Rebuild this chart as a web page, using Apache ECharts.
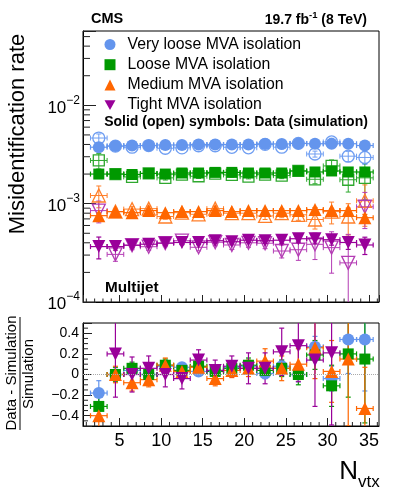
<!DOCTYPE html>
<html>
<head>
<meta charset="utf-8" />
<title>Misidentification rate vs Nvtx</title>
<script src="https://cdn.jsdelivr.net/npm/echarts@6/dist/echarts.min.js"></script>
<style>
    html, body { margin: 0; padding: 0; background: #fff; }
    #chart { width: 399px; height: 499px; }
</style>
</head>
<body>
<div id="chart"></div>
<script>
// bin centres (N_vtx), bins are 2 wide
const nvtx = [2.5, 4.5, 6.5, 8.5, 10.5, 12.5, 14.5, 16.5, 18.5, 20.5, 22.5, 24.5, 26.5, 28.5, 30.5, 32.5, 34.5];

// very loose
const vlooseData = [3.75e-3, 3.85e-3, 3.9e-3, 3.9e-3, 3.95e-3, 3.95e-3, 4.0e-3, 4.0e-3, 4.0e-3, 4.0e-3, 4.05e-3, 4.05e-3, 4.1e-3, 4.07e-3, 4.07e-3, 4.07e-3, 3.9e-3];
const vlooseDataErr = [0.04, 0.02, 0.02, 0.02, 0.02, 0.02, 0.02, 0.02, 0.02, 0.02, 0.02, 0.02, 0.025, 0.03, 0.03, 0.035, 0.04];
const vlooseSim = [4.65e-3, 3.85e-3, 3.75e-3, 3.9e-3, 3.66e-3, 3.69e-3, 3.88e-3, 3.88e-3, 3.74e-3, 3.7e-3, 4.01e-3, 3.75e-3, 4.1e-3, 3.2e-3, 4.24e-3, 3.04e-3, 2.95e-3];
const vlooseSimErr = [0.1, 0.04, 0.03, 0.03, 0.03, 0.03, 0.03, 0.03, 0.03, 0.03, 0.04, 0.04, 0.05, 0.07, 0.09, 0.12, 0.15];
const vlooseRatio = [-0.18, 0.0, 0.04, 0.0, 0.08, 0.07, 0.03, 0.03, 0.07, 0.08, 0.01, 0.08, 0.0, 0.27, -0.04, 0.34, 0.34];
const vlooseRatioErr = [0.12, 0.05, 0.04, 0.04, 0.04, 0.04, 0.04, 0.04, 0.04, 0.05, 0.05, 0.06, 0.07, 0.1, 0.12, 0.33, 0.5];

// loose
const looseData = [2.0e-3, 2.0e-3, 1.98e-3, 2.03e-3, 2.0e-3, 2.05e-3, 2.05e-3, 2.08e-3, 2.08e-3, 2.05e-3, 2.05e-3, 2.05e-3, 2.15e-3, 2.1e-3, 2.15e-3, 2.1e-3, 2.1e-3];
const looseDataErr = [0.05, 0.03, 0.03, 0.03, 0.03, 0.03, 0.03, 0.03, 0.03, 0.03, 0.03, 0.03, 0.04, 0.04, 0.05, 0.06, 0.07];
const looseSim = [2.75e-3, 2.0e-3, 1.87e-3, 2.03e-3, 1.83e-3, 1.97e-3, 1.9e-3, 2.02e-3, 1.96e-3, 1.88e-3, 1.97e-3, 1.93e-3, 2.15e-3, 1.77e-3, 2.42e-3, 1.75e-3, 1.83e-3];
const looseSimErr = [0.18, 0.06, 0.05, 0.05, 0.05, 0.05, 0.05, 0.05, 0.05, 0.05, 0.06, 0.07, 0.08, 0.1, 0.15, 0.25, 0.4];
const looseRatio = [-0.31, 0.0, 0.06, 0.0, 0.09, 0.04, 0.08, 0.03, 0.06, 0.09, 0.04, 0.06, 0.0, 0.19, -0.11, 0.2, 0.15];
const looseRatioErr = [0.12, 0.07, 0.06, 0.06, 0.06, 0.06, 0.06, 0.06, 0.06, 0.07, 0.07, 0.08, 0.1, 0.14, 0.2, 0.42, 0.62];

// medium
const mediumData = [0.755e-3, 0.83e-3, 0.81e-3, 0.85e-3, 0.81e-3, 0.83e-3, 0.83e-3, 0.85e-3, 0.83e-3, 0.85e-3, 0.85e-3, 0.85e-3, 0.85e-3, 0.87e-3, 0.85e-3, 0.85e-3, 0.72e-3];
const mediumDataErr = [0.06, 0.04, 0.03, 0.03, 0.03, 0.03, 0.03, 0.03, 0.03, 0.03, 0.03, 0.04, 0.04, 0.05, 0.05, 0.06, 0.08];
const mediumSim = [1.21e-3, 0.83e-3, 0.88e-3, 0.89e-3, 0.74e-3, 0.81e-3, 0.78e-3, 0.89e-3, 0.8e-3, 0.8e-3, 0.75e-3, 0.8e-3, 0.77e-3, 0.69e-3, 0.83e-3, 0.74e-3, 1.07e-3];
const mediumSimErr = [0.25, 0.08, 0.06, 0.06, 0.06, 0.06, 0.06, 0.06, 0.06, 0.07, 0.08, 0.1, 0.12, 0.2, 0.25, 0.35, 0.45];
const mediumRatio = [-0.4, 0.0, -0.08, -0.05, 0.09, 0.03, 0.07, -0.04, 0.04, 0.06, 0.13, 0.06, 0.1, 0.26, 0.03, 0.15, -0.33];
const mediumRatioErr = [0.12, 0.08, 0.08, 0.07, 0.07, 0.07, 0.07, 0.07, 0.07, 0.08, 0.12, 0.12, 0.15, 0.3, 0.3, 0.65, 0.4];

// tight
const tightData = [0.366e-3, 0.366e-3, 0.378e-3, 0.387e-3, 0.397e-3, 0.403e-3, 0.403e-3, 0.42e-3, 0.41e-3, 0.425e-3, 0.42e-3, 0.425e-3, 0.44e-3, 0.44e-3, 0.43e-3, 0.403e-3, 0.38e-3];
const tightDataErr = [0.25, 0.08, 0.06, 0.06, 0.05, 0.05, 0.05, 0.05, 0.05, 0.05, 0.06, 0.07, 0.08, 0.1, 0.12, 0.15, 0.2];
const tightSim = [0.85e-3, 0.305e-3, 0.378e-3, 0.365e-3, 0.397e-3, 0.42e-3, 0.36e-3, 0.405e-3, 0.38e-3, 0.4e-3, 0.396e-3, 0.33e-3, 0.34e-3, 0.386e-3, 0.357e-3, 0.25e-3, 0.93e-3];
const tightSimErr = [0.25, 0.15, 0.1, 0.08, 0.08, 0.08, 0.08, 0.08, 0.1, 0.1, 0.12, 0.15, 0.22, 0.3, 0.45, 0.95, 0.4];
const tightRatio = [null, 0.2, 0.0, 0.06, 0.0, -0.04, 0.14, 0.04, 0.08, 0.06, 0.06, 0.22, 0.28, 0.14, 0.21, null, null];
const tightRatioErr = [null, 0.42, 0.17, 0.12, 0.12, 0.1, 0.1, 0.1, 0.1, 0.15, 0.15, 0.23, 0.35, 0.45, 0.7, null, null];

// ticks
const xMinorTicks = [1, 2, 3, 4, 6, 7, 8, 9, 11, 12, 13, 14, 16, 17, 18, 19, 21, 22, 23, 24, 26, 27, 28, 29, 31, 32, 33, 34, 36];
const logMinorTicks = [2e-4, 3e-4, 4e-4, 5e-4, 6e-4, 7e-4, 8e-4, 9e-4, 2e-3, 3e-3, 4e-3, 5e-3, 6e-3, 7e-3, 8e-3, 9e-3, 2e-2, 3e-2, 4e-2, 5e-2];
const ratioMinorTicks = [-0.45, -0.35, -0.3, -0.25, -0.15, -0.1, -0.05, 0.05, 0.1, 0.15, 0.25, 0.3, 0.35, 0.45];

const FONT = '"Liberation Sans", Arial, Helvetica, sans-serif';
const INV_TRIANGLE = 'path://M0,0 L10,0 L5,9 Z';

const groups = [
    {name: 'Very loose MVA isolation', color: '#6495ed', open: '#6f9ef2', symbol: 'circle', rotate: 0, size: 12, icon: 'circle',
        data: vlooseData, dataErr: vlooseDataErr, sim: vlooseSim, simErr: vlooseSimErr, ratio: vlooseRatio, ratioErr: vlooseRatioErr},
    {name: 'Loose MVA isolation', color: '#009900', open: '#2ea82e', symbol: 'rect', rotate: 0, size: 11, icon: 'rect',
        data: looseData, dataErr: looseDataErr, sim: looseSim, simErr: looseSimErr, ratio: looseRatio, ratioErr: looseRatioErr},
    {name: 'Medium MVA isolation', color: '#ff6600', open: '#ff7f2a', symbol: 'triangle', rotate: 0, size: 13, icon: 'triangle',
        data: mediumData, dataErr: mediumDataErr, sim: mediumSim, simErr: mediumSimErr, ratio: mediumRatio, ratioErr: mediumRatioErr},
    {name: 'Tight MVA isolation', color: '#990099', open: '#b43cb4', symbol: 'triangle', rotate: 180, size: 13, icon: INV_TRIANGLE,
        data: tightData, dataErr: tightDataErr, sim: tightSim, simErr: tightSimErr, ratio: tightRatio, ratioErr: tightRatioErr}
];

// error bar drawing: [x, y, lo, hi], horizontal +-1 (half bin)
function errorBars(color, width) {
    return function (params, api) {
        const x = api.value(0), y = api.value(1), lo = api.value(2), hi = api.value(3);
        const c = api.coord([x, y]);
        const xl = api.coord([x - 1, y])[0], xr = api.coord([x + 1, y])[0];
        const yt = api.coord([x, hi])[1], yb = api.coord([x, lo])[1];
        const cap = 2.5;
        const style = {stroke: color, lineWidth: width, fill: null};
        const seg = (x1, y1, x2, y2) => ({type: 'line', shape: {x1, y1, x2, y2}, style});
        return {type: 'group', children: [
            seg(xl, c[1], xr, c[1]),
            seg(c[0], yt, c[0], yb),
            seg(c[0] - cap, yt, c[0] + cap, yt),
            seg(c[0] - cap, yb, c[0] + cap, yb),
            seg(xl, c[1] - cap, xl, c[1] + cap),
            seg(xr, c[1] - cap, xr, c[1] + cap)
        ]};
    };
}

// extra (minor) tick marks drawn from the frame edge
function tickSeries(gridIdx, values, dir, len, refValue) {
    return {
        type: 'custom', xAxisIndex: gridIdx, yAxisIndex: gridIdx, silent: true, z: 5,
        encode: {x: 0, y: 1},
        data: values.map(v => dir === 'x' ? [v, refValue] : [refValue, v]),
        renderItem: function (params, api) {
            const cs = params.coordSys;
            const p = api.coord([api.value(0), api.value(1)]);
            const shape = dir === 'x'
                ? {x1: p[0], y1: cs.y + cs.height, x2: p[0], y2: cs.y + cs.height - len}
                : {x1: cs.x, y1: p[1], x2: cs.x + len, y2: p[1]};
            return {type: 'line', shape, style: {stroke: '#222', lineWidth: 1}};
        }
    };
}

const series = [];
groups.forEach(function (g) {
    const simBars = nvtx.map((x, i) => [x, g.sim[i], Math.max(g.sim[i] * (1 - g.simErr[i]), 1e-6), g.sim[i] * (1 + g.simErr[i])]);
    series.push({type: 'custom', name: g.name + ' sim err', xAxisIndex: 0, yAxisIndex: 0, clip: true, silent: true,
        encode: {x: 0, y: 1}, data: simBars, renderItem: errorBars(g.open, 1), z: 2});
    series.push({type: 'scatter', name: g.name + ' sim', xAxisIndex: 0, yAxisIndex: 0, symbol: g.symbol, symbolRotate: g.rotate,
        symbolSize: g.size, data: nvtx.map((x, i) => [x, g.sim[i]]), z: 3,
        itemStyle: {color: 'rgba(255,255,255,0)', borderColor: g.open, borderWidth: 1.3, opacity: 1}});
});
groups.forEach(function (g) {
    const dataBars = nvtx.map((x, i) => [x, g.data[i], Math.max(g.data[i] * (1 - g.dataErr[i]), 1e-6), g.data[i] * (1 + g.dataErr[i])]);
    series.push({type: 'custom', name: g.name + ' data err', xAxisIndex: 0, yAxisIndex: 0, clip: true, silent: true,
        encode: {x: 0, y: 1}, data: dataBars, renderItem: errorBars(g.color, 1.2), z: 4});
    series.push({type: 'scatter', name: g.name, xAxisIndex: 0, yAxisIndex: 0, symbol: g.symbol, symbolRotate: g.rotate,
        symbolSize: g.size, data: nvtx.map((x, i) => [x, g.data[i]]), z: 4,
        itemStyle: {color: g.color, opacity: 1}});
});
// ratio panel
groups.forEach(function (g, k) {
    const pts = [], bars = [];
    nvtx.forEach(function (x, i) {
        if (g.ratio[i] === null) return;
        pts.push([x, g.ratio[i]]);
        bars.push([x, g.ratio[i], g.ratio[i] - g.ratioErr[i], g.ratio[i] + g.ratioErr[i]]);
    });
    series.push({type: 'custom', name: g.name + ' ratio err', xAxisIndex: 1, yAxisIndex: 1, clip: true, silent: true,
        encode: {x: 0, y: 1}, data: bars, renderItem: errorBars(g.color, 1.2), z: 3,
        markLine: k === 0 ? {silent: true, symbol: 'none', label: {show: false},
            lineStyle: {color: '#aaa', type: 'dotted', width: 1}, data: [{yAxis: 0}]} : undefined});
    series.push({type: 'scatter', name: g.name + ' ratio', xAxisIndex: 1, yAxisIndex: 1, symbol: g.symbol, symbolRotate: g.rotate,
        symbolSize: g.size, data: pts, z: 4, itemStyle: {color: g.color, opacity: 1}});
});
series.push(tickSeries(0, xMinorTicks, 'x', 3.5, 1e-3));
series.push(tickSeries(0, logMinorTicks, 'y', 7, 10));
series.push(tickSeries(1, xMinorTicks, 'x', 4, 0));
series.push(tickSeries(1, ratioMinorTicks, 'y', 5, 10));

function isMultiple5(v) { return Math.abs(v / 5 - Math.round(v / 5)) < 1e-6; }

const myChart = echarts.init(document.getElementById('chart'), null, {renderer: 'canvas'});
const option = {
    backgroundColor: '#fff',
    animation: false,
    textStyle: {fontFamily: FONT},
    grid: [
        {left: 83, top: 31, width: 296, height: 271, show: true, borderColor: '#000', borderWidth: 1, backgroundColor: 'transparent'},
        {left: 83, top: 323, width: 296, height: 103, show: true, borderColor: '#000', borderWidth: 1, backgroundColor: 'transparent'}
    ],
    xAxis: [
        {type: 'value', gridIndex: 0, min: 0.6, max: 36.2, splitNumber: 8,
            axisLine: {show: true, onZero: false, lineStyle: {color: '#000'}},
            axisTick: {show: true, inside: true, length: 7, lineStyle: {color: '#222'}},
            axisLabel: {show: false}, splitLine: {show: false}},
        {type: 'value', gridIndex: 1, min: 0.6, max: 36.2, splitNumber: 8,
            axisLine: {show: true, onZero: false, lineStyle: {color: '#000'}},
            axisTick: {show: true, inside: true, length: 8, lineStyle: {color: '#222'}},
            axisLabel: {show: true, margin: 6, color: '#000', fontSize: 18, fontFamily: FONT,
                showMinLabel: false, showMaxLabel: false,
                formatter: v => isMultiple5(v) ? String(v) : ''},
            splitLine: {show: false}}
    ],
    yAxis: [
        {type: 'log', gridIndex: 0, min: 1e-4, max: 0.057, logBase: 10,
            axisLine: {show: true, lineStyle: {color: '#000'}},
            axisTick: {show: true, inside: true, length: 13, lineStyle: {color: '#222'}},
            axisLabel: {show: true, margin: 3, color: '#000', fontFamily: FONT,
                formatter: function (v) {
                    const e = Math.round(Math.log10(v));
                    if (Math.abs(v / Math.pow(10, e) - 1) > 1e-6) return '';
                    return '{b|10}{s|\u2212' + (-e) + '}';
                },
                rich: {
                    b: {fontSize: 17, fontFamily: FONT, color: '#000', lineHeight: 22, verticalAlign: 'bottom'},
                    s: {fontSize: 12, fontFamily: FONT, color: '#000', lineHeight: 12, verticalAlign: 'top'}
                }},
            splitLine: {show: false}},
        {type: 'value', gridIndex: 1, min: -0.5, max: 0.5,
            axisLine: {show: true, onZero: false, lineStyle: {color: '#000'}},
            axisTick: {show: true, inside: true, length: 9, lineStyle: {color: '#222'}},
            axisLabel: {show: true, margin: 4, color: '#000', fontSize: 14, fontFamily: FONT,
                formatter: function (v) {
                    if (Math.abs(v) > 0.45) return '';
                    const s = Math.abs(v) < 1e-9 ? '0' : v.toFixed(1);
                    return s.replace('-', '\u2212');
                }},
            splitLine: {show: false}}
    ],
    legend: {
        data: groups.map(g => ({name: g.name, icon: g.icon})),
        orient: 'vertical', left: 99.5, top: 31.5, itemWidth: 11, itemHeight: 11, itemGap: 4.2,
        selectedMode: false,
        textStyle: {fontSize: 15.8, fontFamily: FONT, color: '#000', lineHeight: 15, padding: [0, 0, 0, 7]}
    },
    graphic: [
        {type: 'text', left: 91, top: 11, style: {text: 'CMS', fontSize: 14.5, fontWeight: 'bold', fontFamily: FONT, fill: '#000'}},
        {type: 'text', right: 32, top: 10, style: {
            text: '{a|19.7 fb}{s|-1}{a| (8 TeV)}', fill: '#000',
            rich: {a: {fontSize: 14, fontWeight: 'bold', fontFamily: FONT, lineHeight: 17, verticalAlign: 'bottom'},
                s: {fontSize: 9.5, fontWeight: 'bold', fontFamily: FONT, lineHeight: 10, verticalAlign: 'top'}}}},
        {type: 'text', x: 236, y: 122, style: {text: 'Solid (open) symbols: Data (simulation)', fontSize: 14, fontWeight: 'bold',
            fontFamily: FONT, fill: '#000', align: 'center', verticalAlign: 'middle', textAlign: 'center', textVerticalAlign: 'middle'}},
        {type: 'text', x: 105, y: 288, style: {text: 'Multijet', fontSize: 15.3, fontWeight: 'bold', fontFamily: FONT, fill: '#000',
            align: 'left', verticalAlign: 'middle', textAlign: 'left', textVerticalAlign: 'middle'}},
        {type: 'text', x: 18, y: 134, rotation: Math.PI / 2, style: {text: 'Misidentification rate', fontSize: 22, fontFamily: FONT, fill: '#000',
            align: 'center', verticalAlign: 'middle', textAlign: 'center', textVerticalAlign: 'middle'}},
        {type: 'text', x: 12, y: 373, rotation: Math.PI / 2, style: {text: 'Data - Simulation', fontSize: 15, fontFamily: FONT, fill: '#000',
            align: 'center', verticalAlign: 'middle', textAlign: 'center', textVerticalAlign: 'middle'}},
        {type: 'line', shape: {x1: 20, y1: 317, x2: 20, y2: 430}, style: {stroke: '#000', lineWidth: 1}},
        {type: 'text', x: 29, y: 374, rotation: Math.PI / 2, style: {text: 'Simulation', fontSize: 15, fontFamily: FONT, fill: '#000',
            align: 'center', verticalAlign: 'middle', textAlign: 'center', textVerticalAlign: 'middle'}},
        {type: 'text', x: 358, y: 472, style: {text: 'N', fontSize: 26, fontFamily: FONT, fill: '#000',
            align: 'right', verticalAlign: 'middle', textAlign: 'right', textVerticalAlign: 'middle'}},
        {type: 'text', x: 358, y: 482, style: {text: 'vtx', fontSize: 17, fontFamily: FONT, fill: '#000',
            align: 'left', verticalAlign: 'middle', textAlign: 'left', textVerticalAlign: 'middle'}}
    ],
    series: series
};
myChart.setOption(option);
</script>
</body>
</html>
